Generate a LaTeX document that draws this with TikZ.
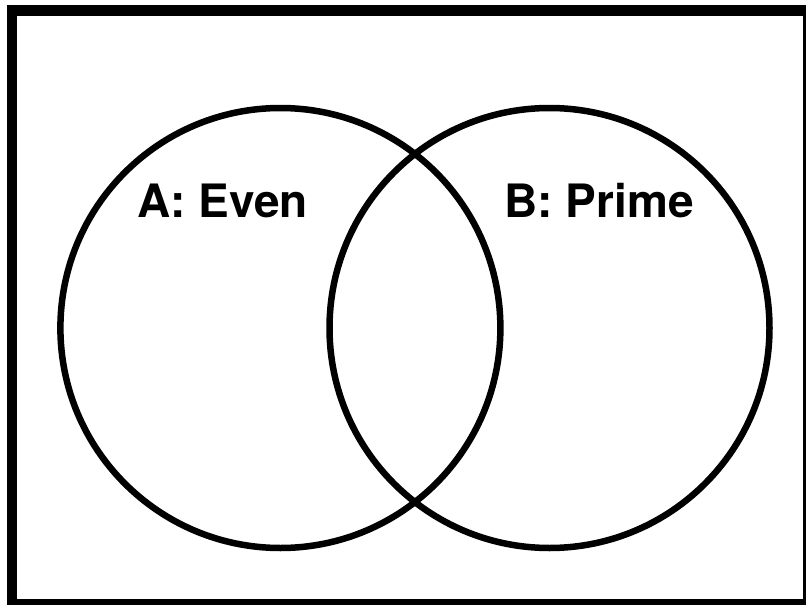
\documentclass[tikz,border=0pt]{standalone}
\usepackage{fontspec}
\setmainfont{TeX Gyre Heros}
\begin{document}
\begin{tikzpicture}[x=1pt,y=-1pt,
  setcircle/.style={draw=black,line width=6.5pt},
  setlabel/.style={font=\fontsize{46}{50}\selectfont\bfseries,inner sep=0pt,anchor=center}]
\useasboundingbox (0,0) rectangle (806,605);
\clip (0,0) rectangle (806,605);
\fill[white] (0,0) rectangle (806,605);
\draw[line width=10.5pt] (12,10.5) rectangle (808.5,604.5);
\node[setcircle,circle,minimum size=440pt,inner sep=0pt] (A) at (280.4,328) {};
\node[setcircle,circle,minimum size=440pt,inner sep=0pt] (B) at (549.5,328) {};
\node[setlabel] (la) at (222.5,201) {A: Even};
\node[setlabel] (lb) at (599,201) {B: Prime};
\end{tikzpicture}
\end{document}
